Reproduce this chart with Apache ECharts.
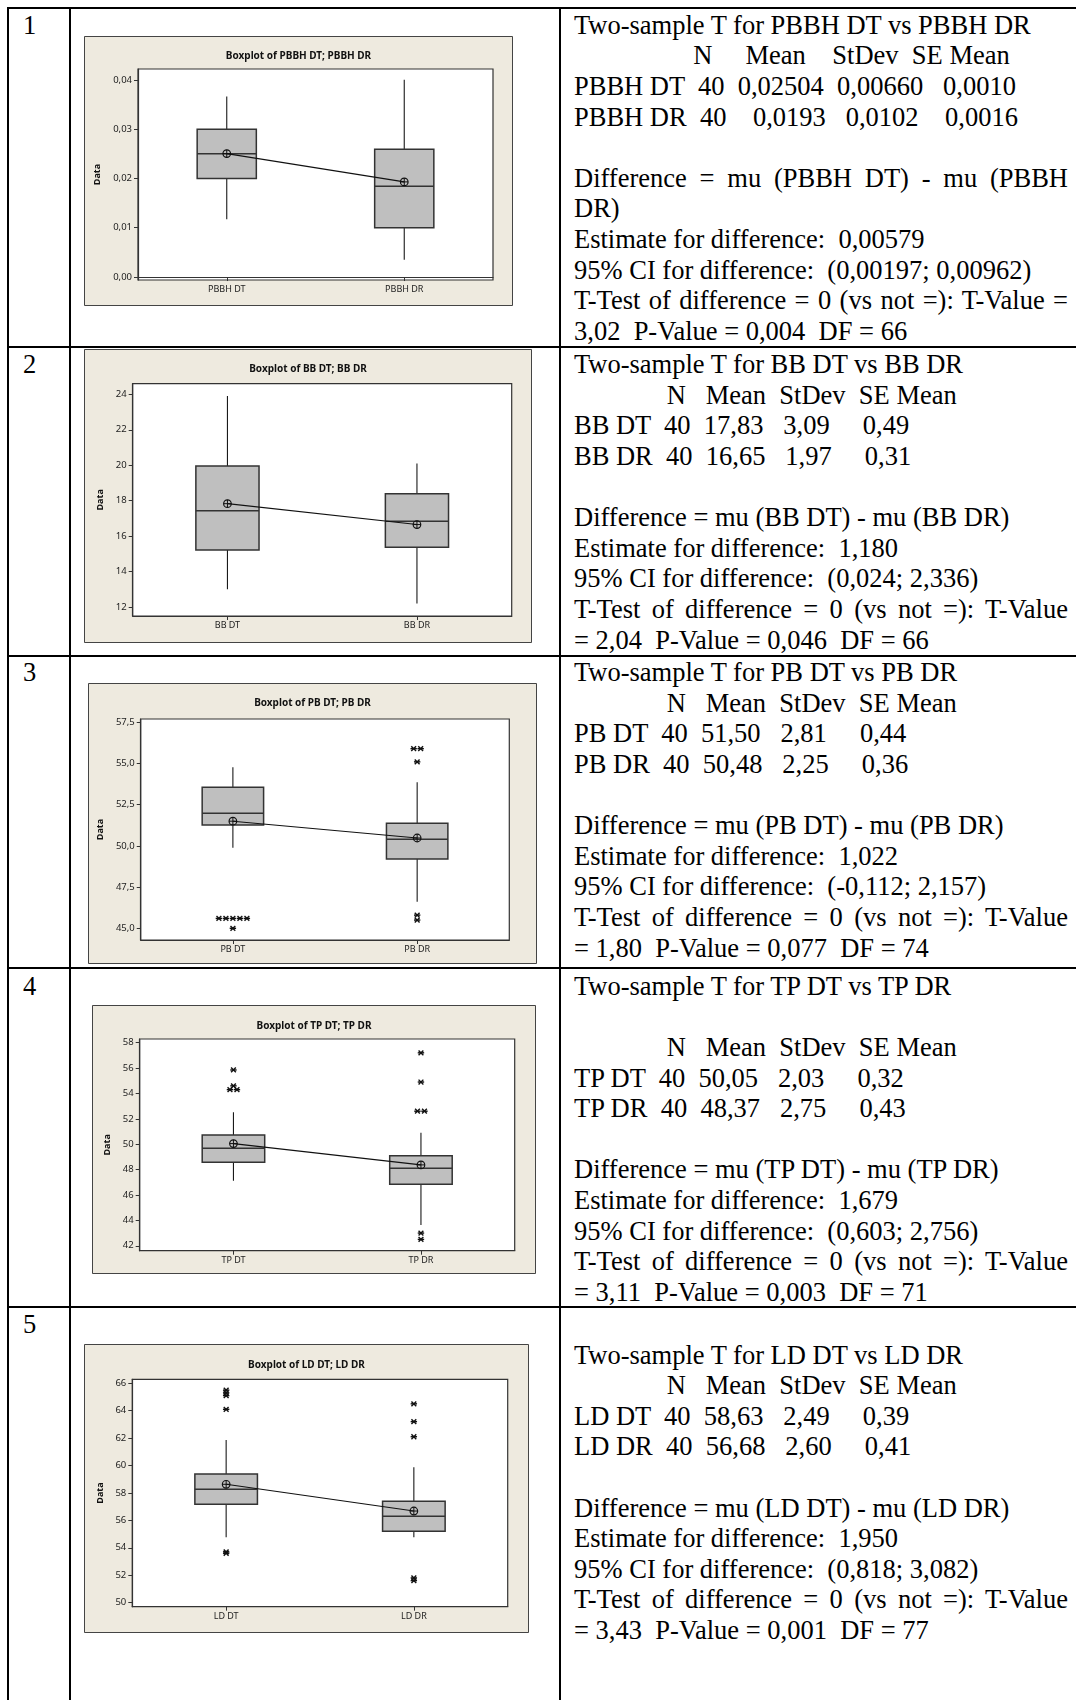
<!DOCTYPE html>
<html><head><meta charset="utf-8">
<script src="https://cdn.jsdelivr.net/npm/echarts@6/dist/echarts.min.js"></script>
<style>
html,body{margin:0;padding:0;background:#fff;}
#page{position:relative;width:1076px;height:1700px;overflow:hidden;background:#fff;font-family:"Liberation Serif","Times New Roman",serif;font-size:26.5px;color:#000;}
.hl{position:absolute;background:#000;}
.ln{position:absolute;white-space:pre;height:30.6px;line-height:30.6px;}
.just{position:absolute;white-space:normal;height:30.6px;line-height:30.6px;text-align:justify;text-align-last:justify;overflow:visible;}
.chart{position:absolute;}
</style></head><body><div id="page"></div>
<script>
// ---------------- DATA ----------------
// box stats: [lower whisker, Q1, median, Q3, upper whisker]
const cats1 = ['PBBH DT', 'PBBH DR'];
const box1 = [[0.0117, 0.0200, 0.0250, 0.0300, 0.0366], [0.0035, 0.0100, 0.0184, 0.0259, 0.0400]];
const mean1 = [0.02504, 0.0193];
const out1 = [[], []];
const ticks1 = [0, 0.01, 0.02, 0.03, 0.04];
const range1 = [-0.0006, 0.0422];

const cats2 = ['BB DT', 'BB DR'];
const box2 = [[13.0, 15.22, 17.43, 19.96, 23.9], [12.2, 15.37, 16.84, 18.39, 20.09]];
const mean2 = [17.83, 16.65];
const out2 = [[], []];
const ticks2 = [12, 14, 16, 18, 20, 22, 24];
const range2 = [11.49, 24.6];

const cats3 = ['PB DT', 'PB DR'];
const box3 = [[49.89, 51.27, 51.98, 53.56, 54.77], [46.61, 49.2, 50.40, 51.37, 53.86]];
const mean3 = [51.50, 50.48];
const out3 = [[45.6, 45.6, 45.6, 45.6, 45.6, 45.0], [55.9, 55.9, 55.1, 45.8, 45.5]];
const ticks3 = [45, 47.5, 50, 52.5, 55, 57.5];
const range3 = [44.29, 57.7];

const cats4 = ['TP DT', 'TP DR'];
const box4 = [[47.12, 48.57, 49.68, 50.72, 52.51], [43.63, 46.84, 48.1, 49.09, 50.9]];
const mean4 = [50.05, 48.37];
const out4 = [[55.85, 54.6, 54.3, 54.3], [57.2, 54.9, 52.6, 52.6, 43.0, 42.5]];
const ticks4 = [42, 44, 46, 48, 50, 52, 54, 56, 58];
const range4 = [41.61, 58.29];

const cats5 = ['LD DT', 'LD DR'];
const box5 = [[54.77, 57.18, 58.27, 59.39, 61.87], [54.77, 55.21, 56.3, 57.4, 59.88]];
const mean5 = [58.63, 56.68];
const out5 = [[65.5, 65.3, 65.1, 64.1, 53.7, 53.6], [64.5, 63.2, 62.1, 51.8, 51.6]];
const ticks5 = [50, 52, 54, 56, 58, 60, 62, 64, 66];
const range5 = [49.7, 66.29];

const titles = ['Boxplot of PBBH DT; PBBH DR', 'Boxplot of BB DT; BB DR', 'Boxplot of PB DT; PB DR', 'Boxplot of TP DT; TP DR', 'Boxplot of LD DT; LD DR'];
const decimals = [2, 0, 1, 0, 0];

const rowNumbers = ['1', '2', '3', '4', '5'];
const text1 = [
  'Two-sample T for PBBH DT vs PBBH DR',
  '                  N     Mean    StDev  SE Mean',
  'PBBH DT  40  0,02504  0,00660   0,0010',
  'PBBH DR  40    0,0193   0,0102    0,0016',
  '',
  'Difference = mu (PBBH DT) - mu (PBBH',
  'DR)',
  'Estimate for difference:  0,00579',
  '95% CI for difference:  (0,00197; 0,00962)',
  'T-Test of difference = 0 (vs not =): T-Value =',
  '3,02  P-Value = 0,004  DF = 66'
];
const just1 = [5, 9];
const text2 = [
  'Two-sample T for BB DT vs BB DR',
  '              N   Mean  StDev  SE Mean',
  'BB DT  40  17,83   3,09     0,49',
  'BB DR  40  16,65   1,97     0,31',
  '',
  'Difference = mu (BB DT) - mu (BB DR)',
  'Estimate for difference:  1,180',
  '95% CI for difference:  (0,024; 2,336)',
  'T-Test of difference = 0 (vs not =): T-Value',
  '= 2,04  P-Value = 0,046  DF = 66'
];
const just2 = [8];
const text3 = [
  'Two-sample T for PB DT vs PB DR',
  '              N   Mean  StDev  SE Mean',
  'PB DT  40  51,50   2,81     0,44',
  'PB DR  40  50,48   2,25     0,36',
  '',
  'Difference = mu (PB DT) - mu (PB DR)',
  'Estimate for difference:  1,022',
  '95% CI for difference:  (-0,112; 2,157)',
  'T-Test of difference = 0 (vs not =): T-Value',
  '= 1,80  P-Value = 0,077  DF = 74'
];
const just3 = [8];
const text4 = [
  'Two-sample T for TP DT vs TP DR',
  '',
  '              N   Mean  StDev  SE Mean',
  'TP DT  40  50,05   2,03     0,32',
  'TP DR  40  48,37   2,75     0,43',
  '',
  'Difference = mu (TP DT) - mu (TP DR)',
  'Estimate for difference:  1,679',
  '95% CI for difference:  (0,603; 2,756)',
  'T-Test of difference = 0 (vs not =): T-Value',
  '= 3,11  P-Value = 0,003  DF = 71'
];
const just4 = [9];
const text5 = [
  '',
  'Two-sample T for LD DT vs LD DR',
  '              N   Mean  StDev  SE Mean',
  'LD DT  40  58,63   2,49     0,39',
  'LD DR  40  56,68   2,60     0,41',
  '',
  'Difference = mu (LD DT) - mu (LD DR)',
  'Estimate for difference:  1,950',
  '95% CI for difference:  (0,818; 3,082)',
  'T-Test of difference = 0 (vs not =): T-Value',
  '= 3,43  P-Value = 0,001  DF = 77'
];
const just5 = [9];

// ---------------- LAYOUT ----------------
const page = document.getElementById('page');
function rule(x, y, w, h) {
  const d = document.createElement('div'); d.className = 'hl';
  d.style.left = x + 'px'; d.style.top = y + 'px'; d.style.width = w + 'px'; d.style.height = h + 'px';
  page.appendChild(d);
}
rule(7, 7, 1069, 2.4);
[345.5, 654.5, 966.5, 1306].forEach(y => rule(7, y, 1069, 2.4));
rule(7, 7, 2.4, 1693);
rule(69, 7, 2.4, 1693);
rule(559, 7, 2.4, 1693);

const rowTops = [9.7, 349.2, 657.2, 970.7, 1308.9];
const LH = 30.6;
const texts = [text1, text2, text3, text4, text5];
const justs = [just1, just2, just3, just4, just5];
rowTops.forEach((top, r) => {
  const n = document.createElement('div'); n.className = 'ln';
  n.style.left = '23px'; n.style.top = top + 'px'; n.textContent = rowNumbers[r];
  page.appendChild(n);
  texts[r].forEach((s, i) => {
    const d = document.createElement('div');
    const isJ = justs[r].includes(i);
    d.className = isJ ? 'just' : 'ln';
    d.style.left = '574px'; d.style.top = (top + i * LH) + 'px';
    if (isJ) d.style.width = '494px';
    d.textContent = s;
    page.appendChild(d);
  });
});

const layouts = [
  {left: 84, top: 36, w: 429, h: 270, gl: 54, gt: 33, gw: 355, gh: 211, tc: 20, ng: 30},
  {left: 84, top: 349, w: 448, h: 294, gl: 48.7, gt: 34.7, gw: 379, gh: 232.3, tc: 20, ng: 24},
  {left: 88, top: 683, w: 449, h: 281, gl: 52.7, gt: 36, gw: 368.6, gh: 221, tc: 20.3, ng: 32},
  {left: 92, top: 1005, w: 444, h: 269, gl: 47.7, gt: 34, gw: 375, gh: 211.7, tc: 21, ng: 23.5},
  {left: 84, top: 1344, w: 445, h: 289, gl: 48.3, gt: 35.3, gw: 375.4, gh: 227.4, tc: 21, ng: 23.5}
];
const chartData = [
  {cats: cats1, box: box1, mean: mean1, out: out1, ticks: ticks1, range: range1},
  {cats: cats2, box: box2, mean: mean2, out: out2, ticks: ticks2, range: range2},
  {cats: cats3, box: box3, mean: mean3, out: out3, ticks: ticks3, range: range3},
  {cats: cats4, box: box4, mean: mean4, out: out4, ticks: ticks4, range: range4},
  {cats: cats5, box: box5, mean: mean5, out: out5, ticks: ticks5, range: range5}
];

const FONT = '"Noto Sans", "Open Sans", sans-serif';
const AX = '#333333';

chartData.forEach((cd, k) => {
  const L = layouts[k];
  const el = document.createElement('div'); el.className = 'chart';
  el.style.left = L.left + 'px'; el.style.top = L.top + 'px';
  el.style.width = L.w + 'px'; el.style.height = L.h + 'px';
  page.appendChild(el);
  const chart = echarts.init(el, null, {renderer: 'canvas'});

  const boxData = cd.box.map((b, i) => [i].concat(b));
  const meanData = cd.mean.map((m, i) => [i, m]);
  const outData = [];
  cd.out.forEach((arr, i) => {
    const groups = new Map();
    arr.forEach(v => { if (!groups.has(v)) groups.set(v, 0); groups.set(v, groups.get(v) + 1); });
    groups.forEach((cnt, v) => { for (let j = 0; j < cnt; j++) outData.push([i, v, j, cnt]); });
  });
  const dec = decimals[k];

  chart.setOption({
    animation: false,
    backgroundColor: '#EEEADF',
    title: {
      text: titles[k], left: 'center', top: L.tc - 6, padding: 0,
      textStyle: {fontFamily: FONT, fontSize: 10, fontWeight: 'bold', color: '#111', lineHeight: 12}
    },
    grid: {left: L.gl, top: L.gt, width: L.gw, height: L.gh, show: true, backgroundColor: '#ffffff', borderColor: AX, borderWidth: 1.2},
    xAxis: {
      type: 'category', data: cd.cats, boundaryGap: true,
      axisLine: {show: true, lineStyle: {color: AX, width: 1.2}},
      axisTick: {show: true, alignWithLabel: true, length: 4, lineStyle: {color: AX}},
      axisLabel: {fontFamily: FONT, fontSize: 9, color: '#222', margin: 5},
      splitLine: {show: false}
    },
    yAxis: {
      type: 'value', min: cd.range[0], max: cd.range[1],
      name: 'Data', nameLocation: 'middle', nameGap: L.ng,
      nameTextStyle: {fontFamily: FONT, fontSize: 9, fontWeight: 'bold', color: '#111'},
      axisLine: {show: true, lineStyle: {color: AX, width: 1.2}},
      axisTick: {show: true, length: 4, lineStyle: {color: AX}, customValues: cd.ticks},
      axisLabel: {
        fontFamily: FONT, fontSize: 9.5, color: '#222', margin: 6, customValues: cd.ticks,
        formatter: v => Number(v).toFixed(dec).replace('.', ',')
      },
      splitLine: {show: false}
    },
    graphic: [{
      type: 'rect', silent: true, z: 100,
      shape: {x: 0.5, y: 0.5, width: L.w - 1, height: L.h - 1},
      style: {fill: 'none', stroke: '#444', lineWidth: 1}
    }],
    series: [
      {
        type: 'custom', z: 2, data: boxData,
        encode: {x: 0, y: [1, 2, 3, 4, 5]},
        renderItem: (params, api) => {
          const c = api.value(0);
          const p = [1, 2, 3, 4, 5].map(j => api.coord([c, api.value(j)]));
          const bw = api.size([1, 0])[0] / 3;
          const x = p[0][0];
          return {type: 'group', children: [
            {type: 'line', shape: {x1: x, y1: p[0][1], x2: x, y2: p[1][1]}, style: {stroke: '#1a1a1a', lineWidth: 1.1}},
            {type: 'line', shape: {x1: x, y1: p[3][1], x2: x, y2: p[4][1]}, style: {stroke: '#1a1a1a', lineWidth: 1.1}},
            {type: 'rect', shape: {x: x - bw / 2, y: p[3][1], width: bw, height: p[1][1] - p[3][1]}, style: {fill: '#BFBFBF', stroke: '#333', lineWidth: 1.5}},
            {type: 'line', shape: {x1: x - bw / 2, y1: p[2][1], x2: x + bw / 2, y2: p[2][1]}, style: {stroke: '#333', lineWidth: 1.5}}
          ]};
        }
      },
      {
        type: 'line', z: 3, data: meanData, symbol: 'none',
        lineStyle: {color: '#111', width: 1.1}
      },
      {
        type: 'custom', z: 4, data: meanData,
        encode: {x: 0, y: 1},
        renderItem: (params, api) => {
          const p = api.coord([api.value(0), api.value(1)]);
          const r = 3.8;
          return {type: 'group', children: [
            {type: 'circle', shape: {cx: p[0], cy: p[1], r: r}, style: {fill: 'none', stroke: '#111', lineWidth: 1.2}},
            {type: 'line', shape: {x1: p[0] - r, y1: p[1], x2: p[0] + r, y2: p[1]}, style: {stroke: '#111', lineWidth: 1}},
            {type: 'line', shape: {x1: p[0], y1: p[1] - r, x2: p[0], y2: p[1] + r}, style: {stroke: '#111', lineWidth: 1}}
          ]};
        }
      },
      {
        type: 'custom', z: 5, data: outData,
        encode: {x: 0, y: 1},
        renderItem: (params, api) => {
          const p = api.coord([api.value(0), api.value(1)]);
          const j = api.value(2), n = api.value(3);
          const cx = p[0] + (j - (n - 1) / 2) * 7, cy = p[1];
          const r = 3.2, d = 2.4;
          return {type: 'group', children: [
            {type: 'line', shape: {x1: cx - r, y1: cy, x2: cx + r, y2: cy}, style: {stroke: '#111', lineWidth: 1.4}},
            {type: 'line', shape: {x1: cx - d, y1: cy - d, x2: cx + d, y2: cy + d}, style: {stroke: '#111', lineWidth: 1.4}},
            {type: 'line', shape: {x1: cx - d, y1: cy + d, x2: cx + d, y2: cy - d}, style: {stroke: '#111', lineWidth: 1.4}}
          ]};
        }
      }
    ]
  });
});
</script>
</body></html>
